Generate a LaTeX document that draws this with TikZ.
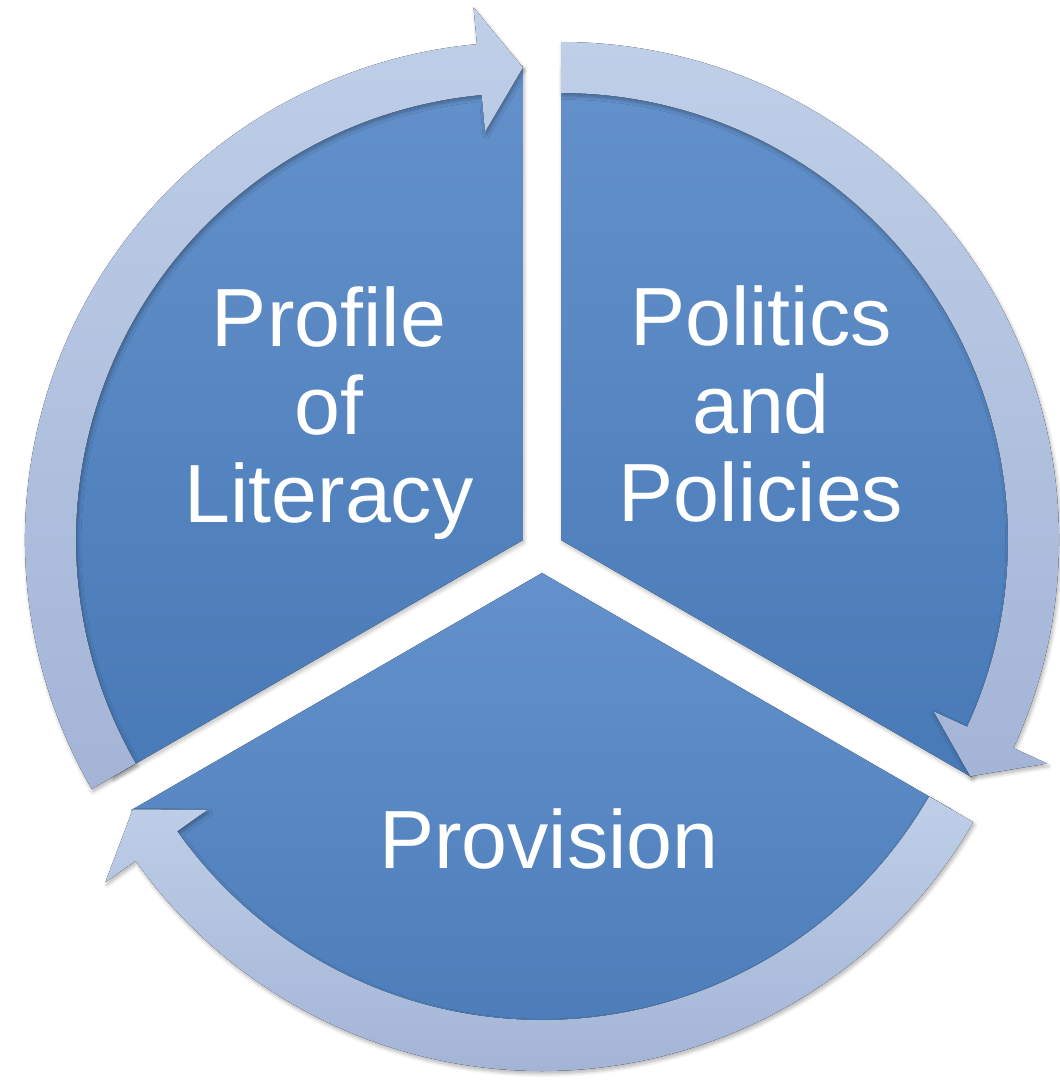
\documentclass[tikz,border=0pt]{standalone}
\usepackage{fontspec}
\setmainfont{Liberation Sans}
\usepackage{tikz}
\usetikzlibrary{shadows.blur}
\definecolor{slicetop}{RGB}{100,145,203}
\definecolor{slicebot}{RGB}{72,122,183}
\definecolor{ringtop}{RGB}{191,207,232}
\definecolor{ringbot}{RGB}{163,180,215}
\tikzstyle{slice}=[top color=slicetop,bottom color=slicebot,draw=none,blur shadow={shadow xshift=0.8pt,shadow yshift=-1.6pt,shadow opacity=25,shadow blur steps=6}]
\tikzstyle{ringarrow}=[top color=ringtop,bottom color=ringbot,draw=none,blur shadow={shadow xshift=0.8pt,shadow yshift=-1.6pt,shadow opacity=30,shadow blur steps=6}]
\tikzstyle{lbl}=[text=white,align=center,inner sep=0pt,font=\fontsize{47}{50}\selectfont]

\begin{document}
\begin{tikzpicture}[x=0.02cm,y=0.02cm]
  \useasboundingbox (-542,-531) rectangle (517,551);
  %Centres of the exploded segments
  \coordinate (C1) at (-19.05,11);
  \coordinate (C2) at (19.05,11);
  \coordinate (C3) at (0,-22);

  %Slices
  \begin{scope}[shift={(C3)}]
    \fill[slice] (0,0) -- (330:474) arc[start angle=330,end angle=210,radius=474] -- cycle;
  \end{scope}
  \begin{scope}[shift={(C1)}]
    \fill[slice] (0,0) -- (210:474) arc[start angle=210,end angle=90,radius=474] -- cycle;
  \end{scope}
  \begin{scope}[shift={(C2)}]
    \fill[slice] (0,0) -- (90:474) arc[start angle=90,end angle=-30,radius=474] -- cycle;
  \end{scope}

  %Arrows
  \begin{scope}[shift={(C1)}]
    \fill[ringarrow] (210:498) arc[start angle=210,end angle=95.3,radius=498] -- (95.3:535)
      -- (90:472.5) -- (95.3:410) -- (95.3:447) arc[start angle=95.3,end angle=210,radius=447] -- cycle;
  \end{scope}
  \begin{scope}[shift={(C2)}]
    \fill[ringarrow] (90:498) arc[start angle=90,end angle=-24.7,radius=498] -- (-24.7:535)
      -- (-30:472.5) -- (-24.7:410) -- (-24.7:447) arc[start angle=-24.7,end angle=90,radius=447] -- cycle;
  \end{scope}
  \begin{scope}[shift={(C3)}]
    \fill[ringarrow] (330:498) arc[start angle=330,end angle=215.3,radius=498] -- (215.3:535)
      -- (210:472.5) -- (215.3:410) -- (215.3:447) arc[start angle=215.3,end angle=330,radius=447] -- cycle;
  \end{scope}

  %Labels
  \node[lbl] (profile)   at (-213,138) {Profile\\of\\Literacy};
  \node[lbl] (politics)  at (219,147)  {Politics\\and\\Policies};
  \node[lbl] (provision) at (7,-288)   {Provision};
\end{tikzpicture}
\end{document}
